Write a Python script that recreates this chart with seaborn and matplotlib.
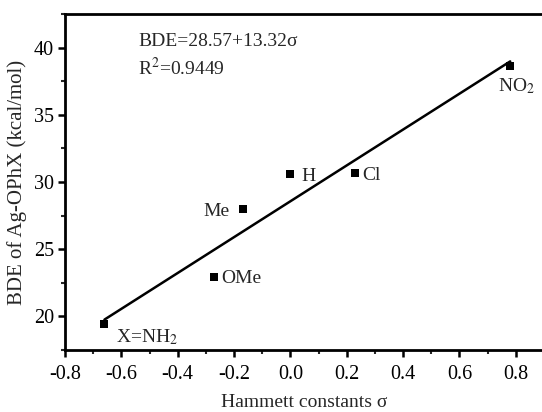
import numpy as np
import pandas as pd
import seaborn as sns
import matplotlib
matplotlib.use("Agg")
import matplotlib.pyplot as plt
from matplotlib.ticker import MultipleLocator

sns.set_style("ticks")
plt.rcParams['font.family'] = ['Liberation Serif', 'DejaVu Serif']
plt.rcParams['mathtext.fontset'] = 'stix'

substituents = ["X=NH$_2$", "OMe", "Me", "H", "Cl", "NO$_2$"]
sigma = [-0.66, -0.27, -0.17, 0.00, 0.23, 0.78]
bde = [19.4, 22.9, 28.0, 30.6, 30.7, 38.6]
xtick_vals = [-0.8, -0.6, -0.4, -0.2, 0.0, 0.2, 0.4, 0.6, 0.8]
xtick_labels = ["-0.8", "-0.6", "-0.4", "-0.2", "0.0", "0.2", "0.4", "0.6", "0.8"]
# label offsets in points (style only)
offsets = [(8, -9), (5, -1), (-28, -2), (8, -2), (5, -2), (-9, -14)]

df = pd.DataFrame({"sigma": sigma, "bde": bde})

fig = plt.figure(figsize=(5.42, 4.12), dpi=100)
ax = fig.add_axes([65/542, 62/412, 479/542, 336/412])

sns.regplot(data=df, x="sigma", y="bde", ax=ax, ci=None, truncate=True, marker="s",
            scatter_kws=dict(s=36, color="black", linewidths=0, alpha=1),
            line_kws=dict(color="black", lw=1.8))

for lab, x, y, off in zip(substituents, sigma, bde, offsets):
    ax.annotate(lab, (x, y), xytext=off, textcoords="offset points",
                fontsize=14, va="center", ha="left")

ax.text((138-65)/479, 1 - (42-14)/336, "BDE=28.57+13.32σ", transform=ax.transAxes,
        fontsize=14, va="center", ha="left")
ax.text((138-65)/479, 1 - (68-14)/336, "R$^2$=0.9449", transform=ax.transAxes,
        fontsize=14, va="center", ha="left")

ax.set_xlim(-0.8, 0.9)
ax.set_ylim(17.5, 42.5)
ax.set_xticks(xtick_vals)
ax.set_xticklabels(xtick_labels)
ax.xaxis.set_minor_locator(MultipleLocator(0.1))
ax.yaxis.set_major_locator(MultipleLocator(5))
ax.yaxis.set_minor_locator(MultipleLocator(2.5))

for s in ax.spines.values():
    s.set_linewidth(2)
    s.set_color("black")
ax.tick_params(which="major", direction="out", length=5, width=1.8, labelsize=14.5, colors="black", pad=3)
ax.tick_params(axis="x", which="major", pad=6)
ax.tick_params(which="minor", direction="out", length=3, width=1.5)

ax.set_xlabel("Hammett constants σ", fontsize=14, labelpad=7)
ax.set_ylabel("BDE of Ag-OPhX (kcal/mol)", fontsize=15, labelpad=5)

fig.savefig("out.png", dpi=100)
